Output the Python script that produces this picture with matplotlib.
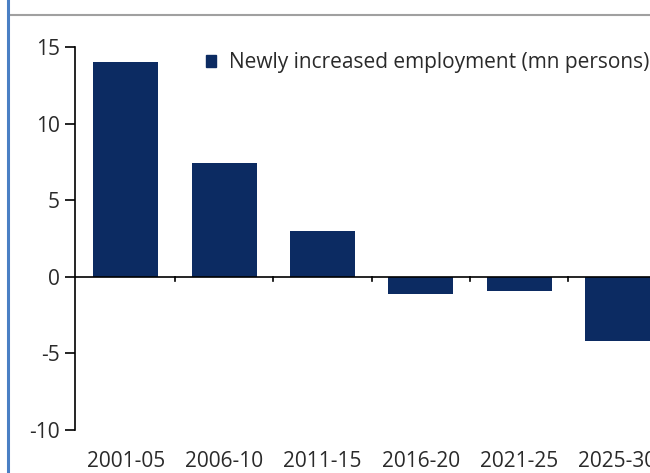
import matplotlib.pyplot as plt
from matplotlib.patches import Patch
from matplotlib.lines import Line2D

periods = ['2001-05', '2006-10', '2011-15', '2016-20', '2021-25', '2025-30']
new_jobs = [14.0, 7.4, 3.0, -1.1, -0.9, -4.2]
y_ticks = [-10, -5, 0, 5, 10, 15]

navy = '#0c2b62'
plt.rcParams['font.family'] = ['Open Sans', 'DejaVu Sans']

fig = plt.figure(figsize=(6.5, 4.73), dpi=100)
ax = fig.add_axes([75 / 650, 1 - 430 / 473, 1 - 75 / 650, (430 - 47) / 473])

x = list(range(len(periods)))
ax.bar(x, new_jobs, width=0.66, color=navy, zorder=2)

# zero line with small ticks between the periods
ax.axhline(0, color='black', lw=1.2, zorder=3)
for b in x[:-1]:
    ax.plot([b + 0.5, b + 0.5], [0, -0.3], color='black', lw=1.2, zorder=3)

ax.set_xlim(-0.515, 5.33)
ax.set_ylim(-10, 15)
ax.set_yticks(y_ticks)
ax.set_yticklabels([str(v) for v in y_ticks])
ax.set_xticks(x)
ax.set_xticklabels(periods)

for s in ['top', 'right', 'bottom']:
    ax.spines[s].set_visible(False)
ax.spines['left'].set_linewidth(1.2)
ax.tick_params(axis='y', length=7, width=1.2, pad=4, labelsize=15, colors='black')
ax.tick_params(axis='x', length=0, pad=15, labelsize=15)
for lab in ax.get_yticklabels() + ax.get_xticklabels():
    lab.set_color('#2a2a2a')

ax.legend([Patch(color=navy)], ['Newly increased employment (mn persons)'],
          loc='upper left', bbox_to_anchor=(0.195, 1.035), frameon=False,
          handlelength=0.5, handleheight=0.5, handletextpad=0.6,
          fontsize=15, labelcolor='#2a2a2a')

# page frame: grey rule on top, blue rule on the left
fig.add_artist(Line2D([10 / 650, 1], [1 - 15 / 473, 1 - 15 / 473],
                      color='#a0a0a0', lw=1.5))
fig.add_artist(Line2D([8 / 650, 8 / 650], [0, 1], color='#4a7fc4', lw=2.2))

fig.savefig('out.png', dpi=100)
